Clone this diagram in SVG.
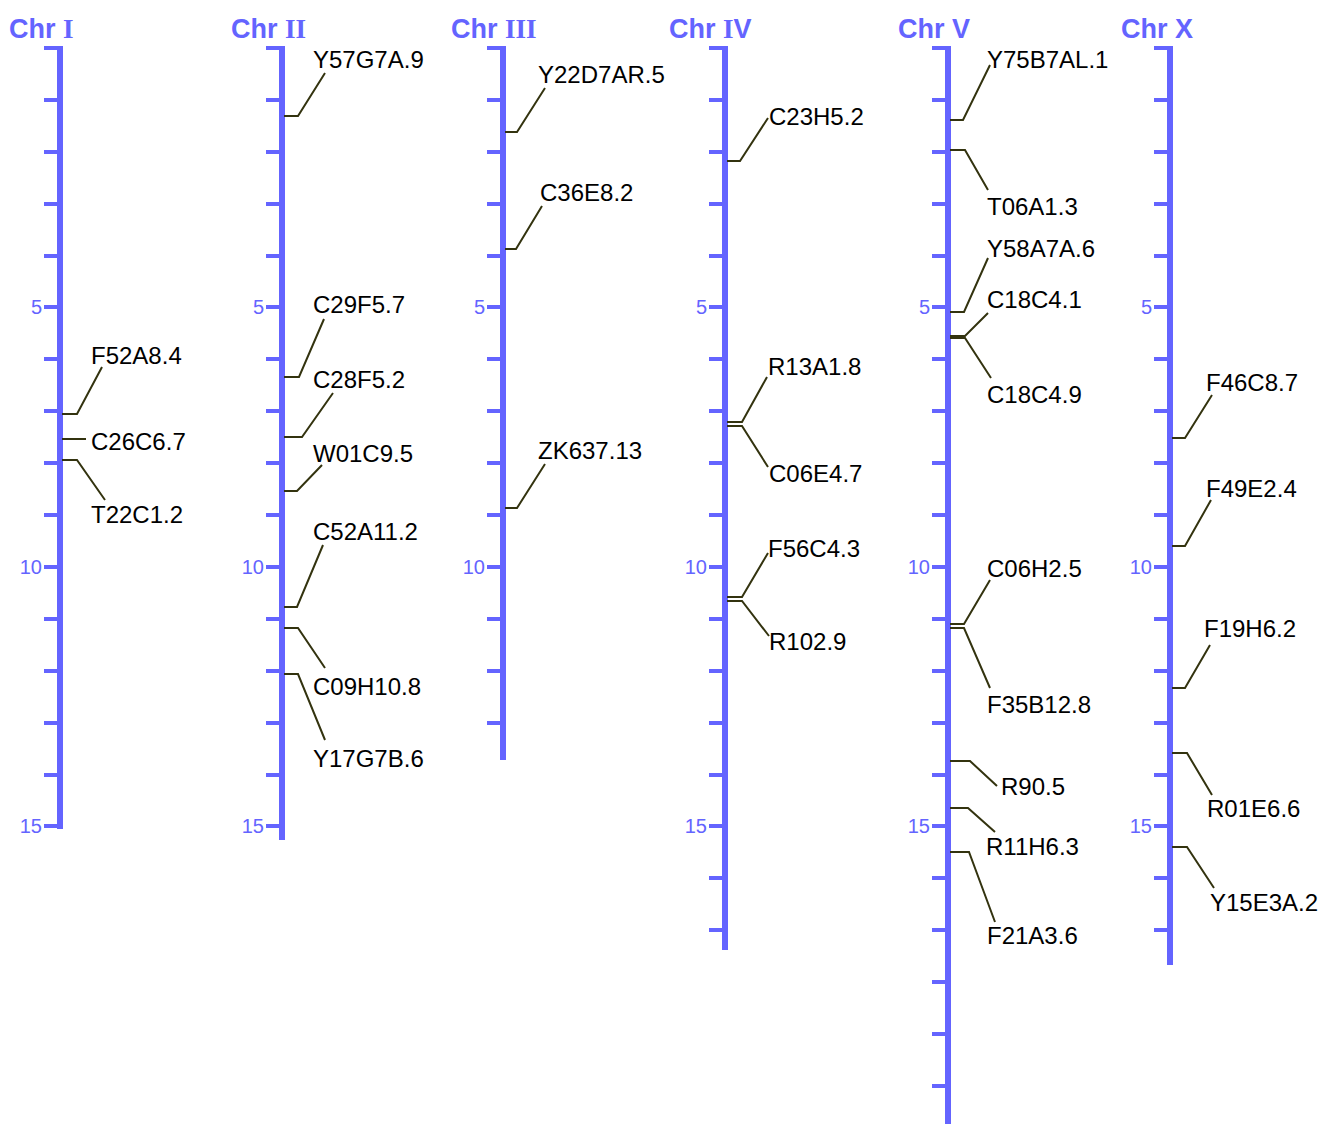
<svg xmlns="http://www.w3.org/2000/svg" width="1321" height="1124" viewBox="0 0 1321 1124">
<style>
.ax{stroke:#6464ff;stroke-width:6;fill:none}
.tk{stroke:#6464ff;stroke-width:4;fill:none}
.ttl{font-family:"Liberation Sans",Arial,sans-serif;font-weight:bold;font-size:27px;fill:#6464ff}
.ri{font-family:"Liberation Serif","Times New Roman",serif;font-weight:bold}
.num{font-family:"Liberation Sans",Arial,sans-serif;font-size:20px;fill:#6464ff;text-anchor:end}
.gn{font-family:"Liberation Sans",Arial,sans-serif;font-size:24px;fill:#000}
.cn{stroke:#33330f;stroke-width:2;fill:none}
</style>
<rect width="1321" height="1124" fill="#fff"/>
<g id="chrI">
<text class="ttl" x="9" y="38">Chr <tspan class="ri">I</tspan></text>
<path class="ax" d="M60 46V829"/>
<path class="tk" d="M44 48H60M44 100H60M44 152H60M44 204H60M44 256H60M44 307H60M44 359H60M44 411H60M44 463H60M44 515H60M44 567H60M44 619H60M44 671H60M44 723H60M44 775H60M44 826H60"/>
<text class="num" x="42" y="314">5</text><text class="num" x="42" y="574">10</text><text class="num" x="42" y="833">15</text>
</g>
<g id="chrII">
<text class="ttl" x="231" y="38">Chr <tspan class="ri">II</tspan></text>
<path class="ax" d="M282 46V840"/>
<path class="tk" d="M266 48H282M266 100H282M266 152H282M266 204H282M266 256H282M266 307H282M266 359H282M266 411H282M266 463H282M266 515H282M266 567H282M266 619H282M266 671H282M266 723H282M266 775H282M266 826H282"/>
<text class="num" x="264" y="314">5</text><text class="num" x="264" y="574">10</text><text class="num" x="264" y="833">15</text>
</g>
<g id="chrIII">
<text class="ttl" x="451" y="38">Chr <tspan class="ri">III</tspan></text>
<path class="ax" d="M503 46V760"/>
<path class="tk" d="M487 48H503M487 100H503M487 152H503M487 204H503M487 256H503M487 307H503M487 359H503M487 411H503M487 463H503M487 515H503M487 567H503M487 619H503M487 671H503M487 723H503"/>
<text class="num" x="485" y="314">5</text><text class="num" x="485" y="574">10</text>
</g>
<g id="chrIV">
<text class="ttl" x="669" y="38">Chr <tspan class="ri">I</tspan>V</text>
<path class="ax" d="M725 46V950"/>
<path class="tk" d="M709 48H725M709 100H725M709 152H725M709 204H725M709 256H725M709 307H725M709 359H725M709 411H725M709 463H725M709 515H725M709 567H725M709 619H725M709 671H725M709 723H725M709 775H725M709 826H725M709 878H725M709 930H725"/>
<text class="num" x="707" y="314">5</text><text class="num" x="707" y="574">10</text><text class="num" x="707" y="833">15</text>
</g>
<g id="chrV">
<text class="ttl" x="898" y="38">Chr V</text>
<path class="ax" d="M948 46V1124"/>
<path class="tk" d="M932 48H948M932 100H948M932 152H948M932 204H948M932 256H948M932 307H948M932 359H948M932 411H948M932 463H948M932 515H948M932 567H948M932 619H948M932 671H948M932 723H948M932 775H948M932 826H948M932 878H948M932 930H948M932 982H948M932 1034H948M932 1086H948"/>
<text class="num" x="930" y="314">5</text><text class="num" x="930" y="574">10</text><text class="num" x="930" y="833">15</text>
</g>
<g id="chrX">
<text class="ttl" x="1121" y="38">Chr X</text>
<path class="ax" d="M1170 46V965"/>
<path class="tk" d="M1154 48H1170M1154 100H1170M1154 152H1170M1154 204H1170M1154 256H1170M1154 307H1170M1154 359H1170M1154 411H1170M1154 463H1170M1154 515H1170M1154 567H1170M1154 619H1170M1154 671H1170M1154 723H1170M1154 775H1170M1154 826H1170M1154 878H1170M1154 930H1170"/>
<text class="num" x="1152" y="314">5</text><text class="num" x="1152" y="574">10</text><text class="num" x="1152" y="833">15</text>
</g>
<g id="connectors">
<path class="cn" d="M62 414H77L102 367"/>
<path class="cn" d="M62 439H86"/>
<path class="cn" d="M62 460H77L105 500"/>
<path class="cn" d="M284 116H298L325 73"/>
<path class="cn" d="M284 377H299L324 319"/>
<path class="cn" d="M284 437H302L333 393"/>
<path class="cn" d="M284 491H297L322 465"/>
<path class="cn" d="M284 607H297L323 545"/>
<path class="cn" d="M284 628H298L325 668"/>
<path class="cn" d="M284 674H298L325 740"/>
<path class="cn" d="M505 132H517L545 88"/>
<path class="cn" d="M505 249H516L542 206"/>
<path class="cn" d="M505 508H517L545 464"/>
<path class="cn" d="M727 161H740L768 118"/>
<path class="cn" d="M727 422H742L767 377"/>
<path class="cn" d="M727 426H742L768 467"/>
<path class="cn" d="M727 597H742L768 553"/>
<path class="cn" d="M727 601H742L769 636"/>
<path class="cn" d="M950 120H963L990 65"/>
<path class="cn" d="M950 150H965L988 190"/>
<path class="cn" d="M950 312H964L988 258"/>
<path class="cn" d="M950 336H965L988 313"/>
<path class="cn" d="M950 338H965L991 378"/>
<path class="cn" d="M950 624H964L990 580"/>
<path class="cn" d="M950 628H964L990 688"/>
<path class="cn" d="M950 761H970L997 786"/>
<path class="cn" d="M950 808H968L995 832"/>
<path class="cn" d="M950 852H969L995 922"/>
<path class="cn" d="M1172 438H1185L1212 395"/>
<path class="cn" d="M1172 546H1185L1211 500"/>
<path class="cn" d="M1172 688H1185L1210 645"/>
<path class="cn" d="M1172 753H1187L1212 795"/>
<path class="cn" d="M1172 847H1187L1214 888"/>
</g>
<g id="labels">
<text class="gn" x="91" y="364">F52A8.4</text>
<text class="gn" x="91" y="450">C26C6.7</text>
<text class="gn" x="91" y="523">T22C1.2</text>
<text class="gn" x="313" y="68">Y57G7A.9</text>
<text class="gn" x="313" y="313">C29F5.7</text>
<text class="gn" x="313" y="388">C28F5.2</text>
<text class="gn" x="313" y="462">W01C9.5</text>
<text class="gn" x="313" y="540">C52A11.2</text>
<text class="gn" x="313" y="695">C09H10.8</text>
<text class="gn" x="313" y="767">Y17G7B.6</text>
<text class="gn" x="538" y="83">Y22D7AR.5</text>
<text class="gn" x="540" y="201">C36E8.2</text>
<text class="gn" x="538" y="459">ZK637.13</text>
<text class="gn" x="769" y="125">C23H5.2</text>
<text class="gn" x="768" y="375">R13A1.8</text>
<text class="gn" x="769" y="482">C06E4.7</text>
<text class="gn" x="768" y="557">F56C4.3</text>
<text class="gn" x="769" y="650">R102.9</text>
<text class="gn" x="987" y="68">Y75B7AL.1</text>
<text class="gn" x="987" y="215">T06A1.3</text>
<text class="gn" x="987" y="257">Y58A7A.6</text>
<text class="gn" x="987" y="308">C18C4.1</text>
<text class="gn" x="987" y="403">C18C4.9</text>
<text class="gn" x="987" y="577">C06H2.5</text>
<text class="gn" x="987" y="713">F35B12.8</text>
<text class="gn" x="1001" y="795">R90.5</text>
<text class="gn" x="986" y="855">R11H6.3</text>
<text class="gn" x="987" y="944">F21A3.6</text>
<text class="gn" x="1206" y="391">F46C8.7</text>
<text class="gn" x="1206" y="497">F49E2.4</text>
<text class="gn" x="1204" y="637">F19H6.2</text>
<text class="gn" x="1207" y="817">R01E6.6</text>
<text class="gn" x="1210" y="911">Y15E3A.2</text>
</g>
</svg>
